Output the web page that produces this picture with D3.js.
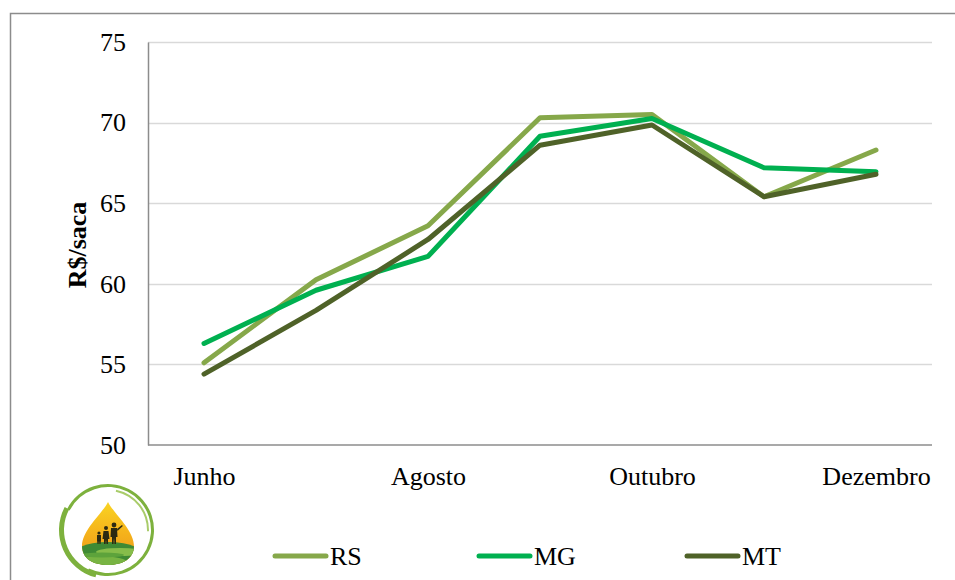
<!DOCTYPE html>
<html>
<head>
<meta charset="utf-8">
<script src="https://cdn.jsdelivr.net/npm/d3@7"></script>
<style>
  body { margin: 0; background: #fff; }
  svg text { font-family: 'Liberation Serif', 'Times New Roman', serif; fill: #000; }
</style>
</head>
<body>
<svg id="canvas" width="955" height="580"></svg>
<script>
let months = ['Junho', 'Julho', 'Agosto', 'Setembro', 'Outubro', 'Novembro', 'Dezembro']
let shownMonths = ['Junho', 'Agosto', 'Outubro', 'Dezembro']
let yTicks = [50, 55, 60, 65, 70, 75]

let rsValues = [55.1, 60.25, 63.6, 70.3, 70.5, 65.4, 68.3]
let mgValues = [56.3, 59.6, 61.7, 69.15, 70.25, 67.2, 66.95]
let mtValues = [54.4, 58.35, 62.75, 68.6, 69.85, 65.4, 66.8]

let seriesNames = ['RS', 'MG', 'MT']
let seriesColors = ['#86a84a', '#00b050', '#4f6228']

let series = [
  { name: seriesNames[0], values: rsValues, color: seriesColors[0] },
  { name: seriesNames[1], values: mgValues, color: seriesColors[1] },
  { name: seriesNames[2], values: mtValues, color: seriesColors[2] }
]

let canvas = d3.select('#canvas')

// outer frame (runs off the picture to the right and bottom)
canvas.append('rect')
  .attr('x', 10.5).attr('y', 13.5)
  .attr('width', 1000).attr('height', 700)
  .attr('fill', 'none')
  .attr('stroke', '#8c8c8c')
  .attr('stroke-width', 1.5)

let plotLeft = 148
let plotRight = 932
let plotTop = 42
let plotBottom = 445

let xScale = d3.scalePoint()
  .domain(months)
  .range([plotLeft, plotRight])
  .padding(0.5)

let yScale = d3.scaleLinear()
  .domain([50, 75])
  .range([plotBottom, plotTop])

// gridlines
canvas.append('g')
  .selectAll('line')
  .data(yTicks.slice(1))
  .enter()
  .append('line')
  .attr('x1', plotLeft).attr('x2', plotRight)
  .attr('y1', (d) => Math.round(yScale(d)) + 0.5)
  .attr('y2', (d) => Math.round(yScale(d)) + 0.5)
  .attr('stroke', '#d9d9d9')
  .attr('stroke-width', 1.5)

// y axis
let yAxis = d3.axisLeft(yScale).tickValues(yTicks).tickSize(0).tickPadding(22)
let yG = canvas.append('g')
  .attr('transform', 'translate(' + plotLeft + ',0)')
  .call(yAxis)
  .attr('font-family', null)
yG.select('.domain').attr('stroke', '#8c8c8c').attr('stroke-width', 1.5)
yG.selectAll('text')
  .style('font-family', "'Liberation Serif', serif")
  .style('font-size', '26px')
  .attr('fill', '#000')

// x axis
let xAxis = d3.axisBottom(xScale)
  .tickValues(shownMonths)
  .tickSize(0)
  .tickPadding(22)
let xG = canvas.append('g')
  .attr('transform', 'translate(0,' + plotBottom + ')')
  .call(xAxis)
  .attr('font-family', null)
xG.select('.domain').attr('stroke', '#8c8c8c').attr('stroke-width', 1.5)
  .attr('d', 'M' + plotLeft + ',0H' + plotRight)
xG.selectAll('text')
  .style('font-family', "'Liberation Serif', serif")
  .style('font-size', '26px')
  .attr('fill', '#000')

// y title
canvas.append('text')
  .attr('transform', 'translate(86,245) rotate(-90)')
  .attr('text-anchor', 'middle')
  .style('font-size', '26px')
  .style('font-weight', 'bold')
  .text('R$/saca')

// lines
let line = d3.line()
  .x((d, i) => xScale(months[i]))
  .y((d) => yScale(d))

canvas.append('g')
  .selectAll('path')
  .data(series)
  .enter()
  .append('path')
  .attr('d', (s) => line(s.values))
  .attr('fill', 'none')
  .attr('stroke', (s) => s.color)
  .attr('stroke-width', 5)
  .attr('stroke-linecap', 'round')
  .attr('stroke-linejoin', 'round')

// legend
let legendX = [275, 479, 687]
let legend = canvas.append('g')
  .selectAll('g')
  .data(series)
  .enter()
  .append('g')
  .attr('transform', (s, i) => 'translate(' + legendX[i] + ',556)')
legend.append('line')
  .attr('x1', 0).attr('x2', 51)
  .attr('stroke', (s) => s.color)
  .attr('stroke-width', 5)
  .attr('stroke-linecap', 'round')
legend.append('text')
  .attr('x', 55)
  .attr('dy', '0.35em')
  .style('font-size', '26px')
  .text((s) => s.name)

// logo (rough drawing)
let logo = canvas.append('g').attr('transform', 'translate(108,530)')
let defs = canvas.append('defs')
let grad = defs.append('linearGradient').attr('id', 'dropGrad')
  .attr('x1', 0).attr('y1', 0).attr('x2', 0).attr('y2', 1)
grad.append('stop').attr('offset', '0%').attr('stop-color', '#f9d423')
grad.append('stop').attr('offset', '50%').attr('stop-color', '#f5b21b')
grad.append('stop').attr('offset', '100%').attr('stop-color', '#ec951a')
let dropPath = 'M0,-28 C6,-16 26,0 26,16 C26,29 14,35 0,35 C-14,35 -26,29 -26,16 C-26,0 -6,-16 0,-28Z'
defs.append('clipPath').attr('id', 'dropClip')
  .append('path')
  .attr('d', dropPath)

let ringArc = d3.arc()
logo.append('path')
  .attr('d', ringArc({ innerRadius: 43, outerRadius: 46, startAngle: -1.1, endAngle: 3.6 }))
  .attr('fill', '#7db13d')
logo.append('path')
  .attr('d', ringArc({ innerRadius: 44, outerRadius: 49, startAngle: 3.4, endAngle: 5.2 }))
  .attr('fill', '#7db13d')
logo.append('path')
  .attr('d', ringArc({ innerRadius: 39, outerRadius: 41, startAngle: 0.2, endAngle: 1.6 }))
  .attr('fill', '#a9cc6a')
logo.append('path')
  .attr('d', dropPath)
  .attr('fill', 'url(#dropGrad)')
let fields = logo.append('g').attr('clip-path', 'url(#dropClip)')
fields.append('ellipse').attr('cx', 0).attr('cy', 30).attr('rx', 40).attr('ry', 18).attr('fill', '#3f8a34')
fields.append('ellipse').attr('cx', -10).attr('cy', 33).attr('rx', 30).attr('ry', 7).attr('fill', '#78b443')
fields.append('ellipse').attr('cx', 12).attr('cy', 22).attr('rx', 24).attr('ry', 4).attr('fill', '#86bd4a')
fields.append('ellipse').attr('cx', -6).attr('cy', 25).attr('rx', 22).attr('ry', 2.5).attr('fill', '#5da33b')
// silhouettes
let ink = '#2c2a12'
logo.append('circle').attr('cx', 6).attr('cy', -5).attr('r', 2.4).attr('fill', ink)
logo.append('path').attr('d', 'M3,-2 L9,-2 L9.5,7 L8,7 L8,14 L6.5,14 L6,8 L5.5,14 L4,14 L4,7 L2.5,7Z').attr('fill', ink)
logo.append('path').attr('d', 'M9,-1 L14,-5 L14.8,-4 L9.5,1Z').attr('fill', ink)
logo.append('circle').attr('cx', -2).attr('cy', -2).attr('r', 2).attr('fill', ink)
logo.append('path').attr('d', 'M-4.5,1 L0.5,1 L1.5,9 L0,9 L0,14 L-1.5,14 L-2,10 L-2.5,14 L-4,14 L-4,9 L-5.5,9Z').attr('fill', ink)
logo.append('circle').attr('cx', -9).attr('cy', 3).attr('r', 1.6).attr('fill', ink)
logo.append('path').attr('d', 'M-11,5 L-7,5 L-7,10 L-7.5,14 L-8.5,14 L-9,11 L-9.5,14 L-10.5,14 L-11,10Z').attr('fill', ink)
</script>
</body>
</html>
